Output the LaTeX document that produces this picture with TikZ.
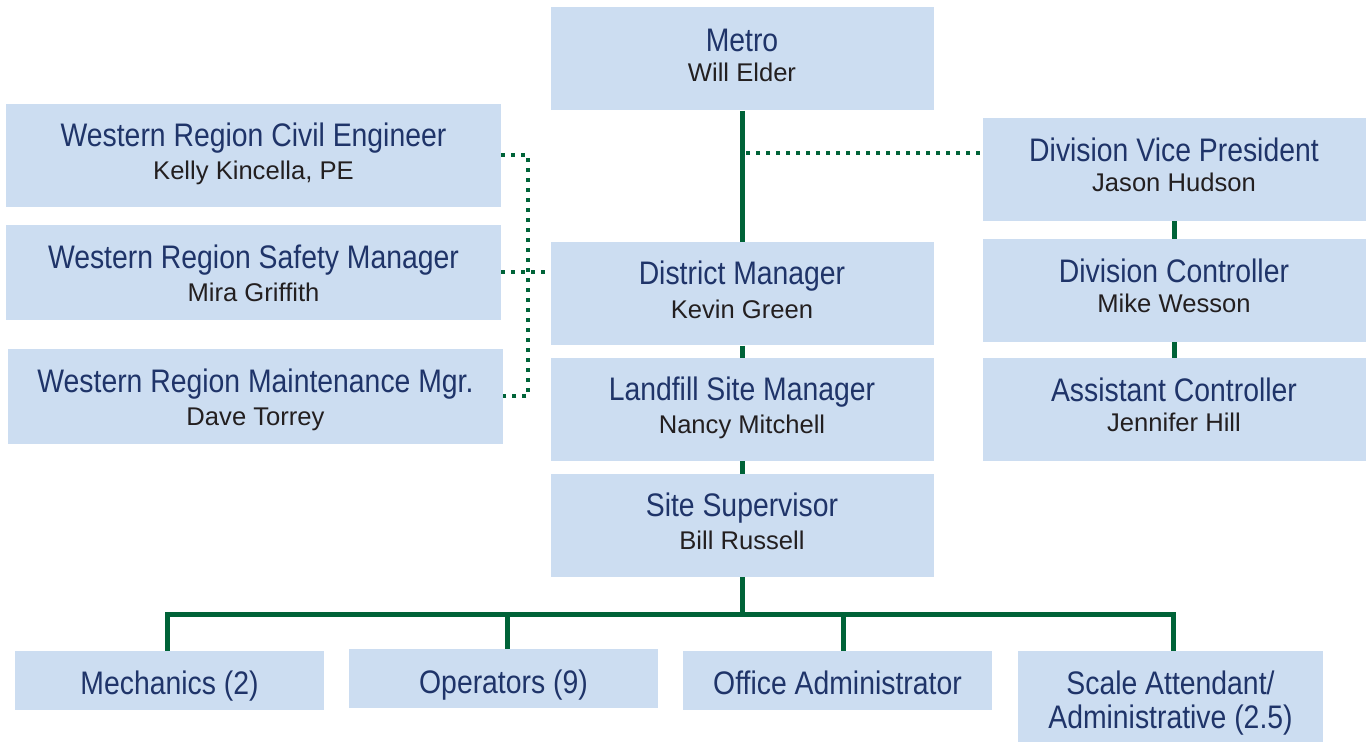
\documentclass[tikz,border=0pt]{standalone}
\usepackage{fontspec}
\setmainfont{Liberation Sans}
\newfontfamily\narrowfont[FakeStretch=0.87]{Liberation Sans}

\definecolor{boxblue}{RGB}{204,221,241}
\definecolor{titleblue}{RGB}{31,52,105}
\definecolor{namegray}{RGB}{35,31,32}
\definecolor{orggreen}{RGB}{0,99,56}

\newcommand{\titlefont}{\narrowfont\fontsize{16.3}{17.5}\selectfont}
\newcommand{\roletext}[2]{{\titlefont\color{titleblue}\rule{0pt}{12.5pt}#1}\\[3pt]{\fontsize{12.8}{14}\selectfont\color{namegray}#2\rule[-5pt]{0pt}{5pt}}}

\begin{document}
\begin{tikzpicture}[x=0.5pt,y=-0.5pt,
		box/.style={fill=boxblue,inner sep=0pt,align=center},
		wide/.style={box,minimum width=191.5pt,minimum height=51.5pt},
		small/.style={box,minimum width=154.5pt,minimum height=29.5pt,font=\titlefont,text=titleblue},
		link/.style={orggreen,line width=2.5pt},
		dotline/.style={orggreen,line width=2pt,dash pattern=on 2pt off 3pt}]
	\useasboundingbox (0,0) rectangle (1367,742);
	% center column
	\node[wide] (metro) at (742,59) {\roletext{Metro}{Will Elder}};
	\node[wide] (dm) at (742,294) {\roletext{District Manager}{Kevin Green}};
	\node[wide] (lsm) at (742,409.5) {\roletext{Landfill Site Manager}{Nancy Mitchell}};
	\node[wide] (ss) at (742,525.5) {\roletext{Site Supervisor}{Bill Russell}};
	% division column
	\node[wide] (dvp) at (1174,169.5) {\roletext{Division Vice President}{Jason Hudson}};
	\node[wide] (dc) at (1174,290.5) {\roletext{Division Controller}{Mike Wesson}};
	\node[wide] (ac) at (1174,409.5) {\roletext{Assistant Controller}{Jennifer Hill}};
	% western region
	\node[box,minimum width=247.5pt,minimum height=51.5pt] (civ) at (253.5,155.5) {\roletext{Western Region Civil Engineer}{Kelly Kincella, PE}};
	\node[box,minimum width=247.5pt,minimum height=47.5pt] (saf) at (253.5,272.5) {\roletext{\rule{0pt}{17.5pt}Western Region Safety Manager}{Mira Griffith}};
	\node[box,minimum width=247.5pt,minimum height=47.5pt] (mnt) at (255.5,396.5) {\roletext{\rule{0pt}{17.5pt}Western Region Maintenance Mgr.}{Dave Torrey}};
	% site staff
	\node[small,text height=17pt,text depth=2.8pt] (mech) at (169.5,680.5) {Mechanics (2)};
	\node[small,text height=17pt,text depth=2.8pt] (ops) at (503.5,679) {Operators (9)};
	\node[small,text height=17pt,text depth=2.8pt] (off) at (837.5,680.5) {Office Administrator};
	\node[small,minimum width=152.5pt,minimum height=45.5pt] (scl) at (1170.5,696.5)
		{\rule{0pt}{18.2pt}Scale Attendant/\\[-0.5pt]Administrative (2.5)\rule[-3.5pt]{0pt}{3.5pt}};

	\coordinate (dvpl) at ([yshift=8pt]dvp.west);
	\draw[link] (metro.south) -- (dm.north);
	\draw[link] (dm.south) -- (lsm.north);
	\draw[link] (lsm.south) -- (ss.north);
	\draw[link] (dvp.south) -- (dc.north);
	\draw[link] (dc.south) -- (ac.north);
	\draw[dotline] (metro.south |- dvpl) ++(2pt,0) -- (dvpl);
	\draw[dotline] (civ.east) -- ++(13.5pt,0) |- (mnt.east);
	\draw[dotline] (saf.east) -- (saf.east -| dm.west);
	\draw[link] (ss.south) -- ++(0,-18.5pt) coordinate (bus);
	\foreach \b/\dx in {mech/-1.25pt,ops/1.75pt,off/2.75pt,scl/1.25pt}
		\draw[link] (bus) -| ([xshift=\dx]\b.north);
\end{tikzpicture}
\end{document}
